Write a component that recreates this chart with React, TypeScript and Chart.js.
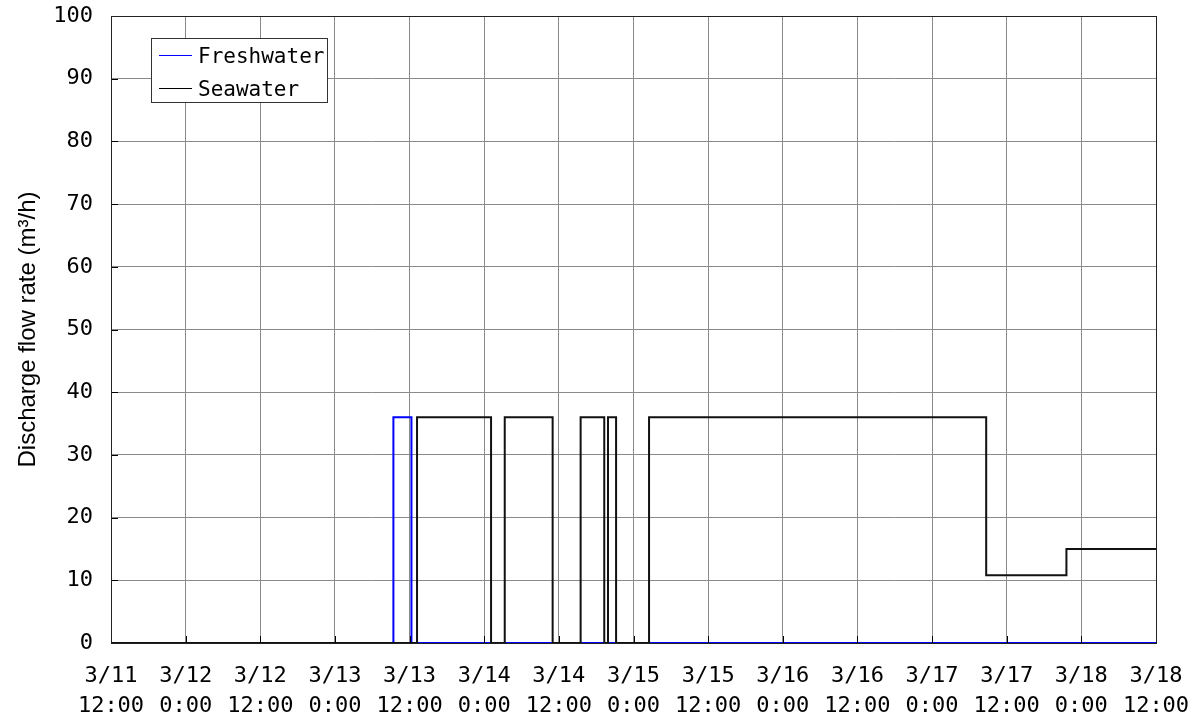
import React, { useEffect, useRef } from "react";
import { Chart, registerables } from "chart.js";

Chart.register(...registerables);

// hours since 3/11 12:00 where the value changes, and the value held from that hour on
const freshTimes = [0, 45.4, 48.3, 168];
const freshValues = [0, 36, 0, 0];
const seaTimes = [0, 49.2, 61.1, 63.3, 71.0, 75.5, 79.3, 79.9, 81.2, 86.5, 140.7, 153.6, 168];
const seaValues = [0, 36, 0, 36, 0, 36, 0, 36, 0, 36, 10.8, 15, 15];

const xTickDates = ["3/11", "3/12", "3/12", "3/13", "3/13", "3/14", "3/14", "3/15", "3/15", "3/16", "3/16", "3/17", "3/17", "3/18", "3/18"];
const xTickTimes = ["12:00", "0:00", "12:00", "0:00", "12:00", "0:00", "12:00", "0:00", "12:00", "0:00", "12:00", "0:00", "12:00", "0:00", "12:00"];

const FONT = "'DejaVu Sans Mono', 'Noto Sans CJK JP', monospace";

const frame = {
  id: "frame",
  afterDatasetsDraw(chart: any) {
    const { ctx, chartArea: a, scales } = chart;
    ctx.save();
    ctx.strokeStyle = "#000";
    ctx.lineWidth = 1;
    ctx.beginPath();
    for (const t of scales.y.ticks) {
      const y = Math.round(scales.y.getPixelForValue(t.value)) + 0.5;
      ctx.moveTo(a.left, y);
      ctx.lineTo(a.left + 7, y);
    }
    for (const t of scales.x.ticks) {
      const x = Math.round(scales.x.getPixelForValue(t.value)) + 0.5;
      ctx.moveTo(x, a.bottom);
      ctx.lineTo(x, a.bottom - 7);
    }
    ctx.stroke();
    ctx.strokeStyle = "#222";
    ctx.strokeRect(Math.round(a.left) + 0.5, Math.round(a.top) + 0.5, Math.round(a.right - a.left), Math.round(a.bottom - a.top));
    ctx.restore();
  },
};

export default function App() {
  const ref = useRef<HTMLCanvasElement>(null);
  useEffect(() => {
    const fresh = freshTimes.map((t, i) => ({ x: t, y: freshValues[i] }));
    const sea = seaTimes.map((t, i) => ({ x: t, y: seaValues[i] }));
    const chart = new Chart(ref.current as HTMLCanvasElement, {
      type: "line",
      data: {
        datasets: [
          { label: "Seawater", data: sea, borderColor: "#111", borderWidth: 2, pointRadius: 0, stepped: "before", fill: false },
          { label: "Freshwater", data: fresh, borderColor: "#0000ff", borderWidth: 2, pointRadius: 0, stepped: "before", fill: false },
        ],
      },
      options: {
        animation: false,
        responsive: false,
        maintainAspectRatio: false,
        layout: { padding: { top: 16, right: 41, left: 0, bottom: 0 } },
        plugins: { legend: { display: false }, tooltip: { enabled: false } },
        scales: {
          x: {
            type: "linear",
            min: 0,
            max: 168,
            afterFit: (s: any) => { s.height = 77; s.paddingLeft = 0; s.paddingRight = 0; },
            grid: { color: "#8a8a8a", lineWidth: 1, drawTicks: false },
            border: { display: false },
            ticks: {
              stepSize: 12,
              padding: 18,
              color: "#000",
              maxRotation: 0,
              autoSkip: false,
              font: { family: FONT, size: 22, lineHeight: 1.36 },
              callback: (v: any) => {
                const i = Math.round(Number(v) / 12);
                return [xTickDates[i], xTickTimes[i]];
              },
            },
          },
          y: {
            min: 0,
            max: 100,
            afterFit: (s: any) => { s.width = 111; s.paddingTop = 0; s.paddingBottom = 0; },
            grid: { color: "#8a8a8a", lineWidth: 1, drawTicks: false },
            border: { display: false },
            ticks: { stepSize: 10, padding: 18, color: "#000", font: { family: FONT, size: 22 } },
            title: {
              display: true,
              text: "Discharge flow rate (m³/h)",
              color: "#000",
              font: { family: "'Liberation Sans', Arial, sans-serif", size: 24 },
              padding: { top: 14, bottom: 0 },
            },
          },
        },
      },
      plugins: [frame],
    });
    return () => chart.destroy();
  }, []);

  return (
    <div style={{ position: "fixed", left: 0, top: 0, width: 1197, height: 720, background: "#fff" }}>
      <canvas ref={ref} width={1197} height={720} style={{ width: 1197, height: 720, display: "block" }} />
      <div
        style={{
          position: "absolute",
          left: 151,
          top: 38,
          width: 175,
          height: 63,
          border: "1px solid #333",
          background: "#fff",
          fontFamily: FONT,
          fontSize: 21,
          color: "#000",
        }}
      >
        <div style={{ position: "absolute", left: 7, top: 16, width: 33, height: 0, borderTop: "1.5px solid #0000ff" }} />
        <div style={{ position: "absolute", left: 46, top: 2, lineHeight: "30px", whiteSpace: "nowrap" }}>Freshwater</div>
        <div style={{ position: "absolute", left: 7, top: 49, width: 33, height: 0, borderTop: "1.5px solid #000" }} />
        <div style={{ position: "absolute", left: 46, top: 35, lineHeight: "30px", whiteSpace: "nowrap" }}>Seawater</div>
      </div>
    </div>
  );
}
